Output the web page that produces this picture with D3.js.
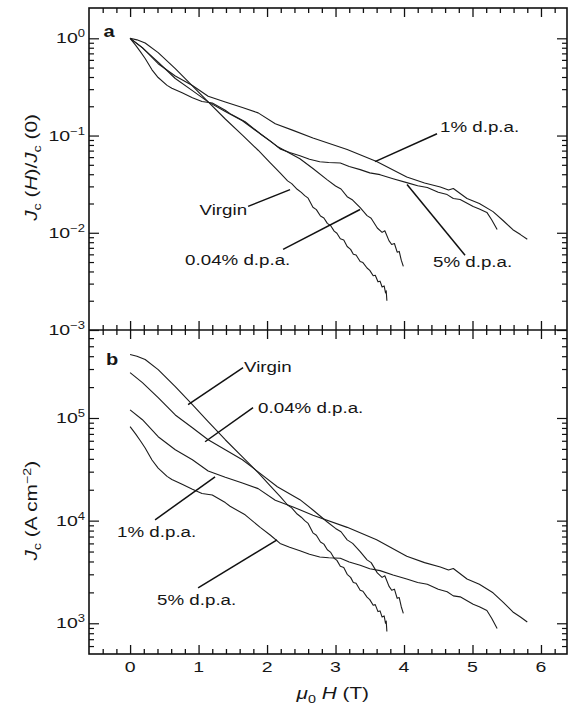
<!DOCTYPE html>
<html><head><meta charset="utf-8">
<script src="https://cdn.jsdelivr.net/npm/d3@7"></script>
<style>
body{margin:0;background:#fff}
svg{display:block}
text{font-family:"Liberation Sans",Arial,Helvetica,sans-serif;fill:#161616}
</style>
</head><body>
<svg id="c" width="575" height="707"></svg>
<script>
// ---------- data ----------
const seriesNames = ["Virgin", "0.04% d.p.a.", "1% d.p.a.", "5% d.p.a."];

// Virgin
const fieldVirgin = [0,0.1,0.22,0.41,0.66,0.91,1.14,1.39,1.64,1.87,2.04,2.19,2.3,2.36,2.44,2.5,2.55,2.6,2.67,2.72,2.78,2.83,2.88,2.93,2.98,3.02,3.07,3.12,3.17,3.22,3.26,3.3,3.36,3.4,3.46,3.5,3.55,3.58,3.62,3.65,3.68,3.71,3.73,3.74,3.75];
const jcVirgin = [4.15e5,4.0e5,3.71e5,2.96e5,2.02e5,1.35e5,9.2e4,6.14e4,4.19e4,2.93e4,2.2e4,1.72e4,1.42e4,1.33e4,1.16e4,1.08e4,1.0e4,9.4e3,7.6e3,7.2e3,6.2e3,5.9e3,5.2e3,4.9e3,4.3e3,4.1e3,3.6e3,3.5e3,3.0e3,2.8e3,2.5e3,2.45e3,2.1e3,2.05e3,1.8e3,1.7e3,1.5e3,1.52e3,1.3e3,1.32e3,1.15e3,1.18e3,1.0e3,1.05e3,830];
const normVirgin = [1,0.964,0.894,0.713,0.487,0.325,0.222,0.148,0.101,0.0706,0.053,0.0414,0.0342,0.032,0.028,0.026,0.0241,0.0227,0.0183,0.0173,0.0149,0.0142,0.0125,0.0118,0.0104,0.00988,0.00867,0.00843,0.00723,0.00675,0.00602,0.0059,0.00506,0.00494,0.00434,0.0041,0.00361,0.00366,0.00313,0.00318,0.00277,0.00284,0.00241,0.00253,0.002];

// 0.04% d.p.a.
const field004 = [0,0.18,0.41,0.66,0.91,1.14,1.39,1.64,1.87,2.15,2.48,2.67,2.88,3.0,3.08,3.17,3.25,3.36,3.46,3.52,3.61,3.68,3.72,3.78,3.82,3.86,3.9,3.93,3.96,3.99];
const jc004 = [2.77e5,2.21e5,1.58e5,1.07e5,8.04e4,6.14e4,4.91e4,3.92e4,2.99e4,2.14e4,1.6e4,1.27e4,9.7e3,8.4e3,7.8e3,6.5e3,6.0e3,5.0e3,4.15e3,3.9e3,3.1e3,2.8e3,2.9e3,2.3e3,2.1e3,2.15e3,1.75e3,1.78e3,1.45e3,1.25e3];
const norm004 = [1,0.798,0.57,0.386,0.29,0.222,0.177,0.142,0.108,0.0773,0.0578,0.0458,0.035,0.0303,0.0282,0.0235,0.0217,0.0181,0.015,0.0141,0.0112,0.0101,0.0105,0.0083,0.00758,0.00776,0.00632,0.00643,0.00523,0.00451];

// 1% d.p.a.
const field1 = [0,0.18,0.41,0.66,0.91,1.14,1.39,1.64,1.87,2.12,2.38,2.67,3.17,3.6,4.04,4.3,4.53,4.65,4.72,4.92,5.1,5.3,5.45,5.59,5.7,5.8];
const jc1 = [1.2e5,9.62e4,6.57e4,4.91e4,3.92e4,3.05e4,2.65e4,2.33e4,2.05e4,1.58e4,1.36e4,1.13e4,8.6e3,6.5e3,4.5e3,3.9e3,3.54e3,3.3e3,3.42e3,2.7e3,2.4e3,1.98e3,1.6e3,1.29e3,1.15e3,1.03e3];
const norm1 = [1,0.802,0.548,0.409,0.327,0.254,0.221,0.194,0.171,0.132,0.113,0.0942,0.0717,0.0542,0.0375,0.0325,0.0295,0.0275,0.0285,0.0225,0.02,0.0165,0.0133,0.01075,0.00958,0.00858];

// 5% d.p.a.
const field5 = [0,0.08,0.15,0.22,0.32,0.41,0.54,0.61,0.76,0.91,1.05,1.2,1.39,1.46,1.68,1.9,2.05,2.19,2.33,2.48,2.62,2.77,2.9,3.07,3.2,3.36,3.5,3.65,3.84,4.04,4.2,4.34,4.5,4.63,4.72,4.82,5.01,5.1,5.21,5.28,5.36];
const jc5 = [8.23e4,7.0e4,6.0e4,5.1e4,3.9e4,3.25e4,2.7e4,2.52e4,2.26e4,2.02e4,1.84e4,1.78e4,1.5e4,1.38e4,1.14e4,8.6e3,7.2e3,6.0e3,5.5e3,5.1e3,4.7e3,4.43e3,4.35e3,4.3e3,3.95e3,3.67e3,3.4e3,3.26e3,2.96e3,2.7e3,2.5e3,2.4e3,2.15e3,2.03e3,1.85e3,1.81e3,1.53e3,1.45e3,1.33e3,1.12e3,890];
const norm5 = [1,0.851,0.729,0.62,0.474,0.395,0.328,0.306,0.275,0.245,0.224,0.216,0.182,0.168,0.1385,0.1045,0.0875,0.0729,0.0668,0.062,0.0571,0.0538,0.0529,0.0522,0.048,0.0446,0.0413,0.0396,0.036,0.0328,0.0304,0.0292,0.0261,0.0247,0.0225,0.022,0.0186,0.0176,0.0162,0.0136,0.0108];

// ticks
const xTickValues = [0,1,2,3,4,5,6];
const xTickLabels = ["0","1","2","3","4","5","6"];
const yTickValuesA = [1,0.1,0.01,0.001];
const yTickExpA = ["0","\u22121","\u22122","\u22123"];
const yTickValuesB = [1e5,1e4,1e3];
const yTickExpB = ["5","4","3"];

// annotations (data units): text anchor point, leader line ends
const annotA = [
  {text:"Virgin",       tx:1.708, ty:0.0154,  anchor:"end",   l:[[1.723,0.01867],[2.336,0.0278]]},
  {text:"0.04% d.p.a.", tx:0.803, ty:0.00462, anchor:"start", l:[[2.234,0.00675],[3.358,0.01734]]},
  {text:"1% d.p.a.",    tx:4.526, ty:0.1094,  anchor:"start", l:[[3.577,0.0539],[4.482,0.1043]]},
  {text:"5% d.p.a.",    tx:4.423, ty:0.00441, anchor:"start", l:[[4.044,0.0313],[4.891,0.00587]]}
];
const annotB = [
  {text:"Virgin",       tx:1.664, ty:2.83e5,  anchor:"start", l:[[0.847,1.35e5],[1.65,3.10e5]]},
  {text:"0.04% d.p.a.", tx:1.869, ty:1.126e5, anchor:"start", l:[[1.095,5.87e4],[1.796,1.26e5]]},
  {text:"1% d.p.a.",    tx:-0.19, ty:6.95e3,  anchor:"start", l:[[0.365,1.018e4],[1.241,2.675e4]]},
  {text:"5% d.p.a.",    tx:0.394, ty:1.508e3, anchor:"start", l:[[0.993,2.21e3],[2.146,6.5e3]]}
];

// ---------- scales ----------
const svg = d3.select("#c");
const x  = d3.scaleLinear().domain([-0.6, 6.38]).range([89, 567]);
const yA = d3.scaleLog().domain([1e-3, 2.05]).range([330, 8]);
const yB = d3.scaleLog().domain([502, 7.2e5]).range([654, 330]);

const zipS = (f, v) => f.map((h, i) => [h, v[i]]);
const dataA = [zipS(fieldVirgin, normVirgin), zipS(field004, norm004), zipS(field1, norm1), zipS(field5, norm5)];
const dataB = [zipS(fieldVirgin, jcVirgin), zipS(field004, jc004), zipS(field1, jc1), zipS(field5, jc5)];

// text helper with horizontal stretch
function label(parent, px, py, anchor, size, sx, parts, rot) {
  const g = parent.append("g")
    .attr("transform", `translate(${px},${py})` + (rot ? ` rotate(${rot})` : "") + ` scale(${sx},1)`);
  const t = g.append("text").attr("text-anchor", anchor).attr("font-size", size);
  parts.forEach(p => {
    const ts = t.append("tspan").text(p.t);
    if (p.dy) ts.attr("dy", p.dy);
    if (p.fs) ts.attr("font-size", p.fs);
    if (p.it) ts.attr("font-style", "italic");
    if (p.b) ts.attr("font-weight", "bold");
  });
  return g;
}

// ---------- curves ----------
const lineA = d3.line().x(d => x(d[0])).y(d => yA(d[1]));
const lineB = d3.line().x(d => x(d[0])).y(d => yB(d[1]));
const curves = svg.append("g").attr("fill", "none").attr("stroke", "#1c1c1c").attr("stroke-width", 1.1).attr("stroke-linejoin", "round");
dataA.forEach(d => curves.append("path").attr("d", lineA(d)));
dataB.forEach(d => curves.append("path").attr("d", lineB(d)));

// ---------- axes / ticks ----------
const minorX = x.ticks(35).filter(v => Math.abs(v - Math.round(v)) > 1e-6 && v > -0.55 && v < 6.35);
function xTickRow(y0, top) {
  const mk = top ? d3.axisTop : d3.axisBottom;
  const g1 = svg.append("g").attr("transform", `translate(0,${y0})`)
    .call(mk(x).tickValues(xTickValues).tickSize(-9).tickFormat(""));
  const g2 = svg.append("g").attr("transform", `translate(0,${y0})`)
    .call(mk(x).tickValues(minorX).tickSize(-5).tickFormat(""));
  [g1, g2].forEach(g => { g.select(".domain").remove(); g.selectAll("line").attr("stroke", "#111").attr("stroke-width", 1.3); });
}
xTickRow(yA.range()[1], true);
xTickRow(yA.range()[0], false);
xTickRow(yB.range()[1], true);
xTickRow(yB.range()[0], false);

function yTicks(scale, majors) {
  const lo = scale.domain()[0], hi = scale.domain()[1];
  const minors = scale.ticks().filter(v => !majors.some(m => Math.abs(m - v) / m < 1e-6) && v > lo * 1.03 && v < hi * 0.95);
  const xl = x.range()[0], xr = x.range()[1];
  [[d3.axisLeft, xl], [d3.axisRight, xr]].forEach(([mk, xp]) => {
    const g1 = svg.append("g").attr("transform", `translate(${xp},0)`)
      .call(mk(scale).tickValues(majors).tickSize(-10).tickFormat(""));
    const g2 = svg.append("g").attr("transform", `translate(${xp},0)`)
      .call(mk(scale).tickValues(minors).tickSize(-5).tickFormat(""));
    [g1, g2].forEach(g => { g.select(".domain").remove(); g.selectAll("line").attr("stroke", "#111").attr("stroke-width", 1.2); });
  });
}
yTicks(yA, yTickValuesA);
yTicks(yB, yTickValuesB);

// frame
svg.append("rect").attr("x", x.range()[0]).attr("y", yA.range()[1])
  .attr("width", x.range()[1] - x.range()[0]).attr("height", yB.range()[0] - yA.range()[1])
  .attr("fill", "none").attr("stroke", "#111").attr("stroke-width", 1.6);
svg.append("line").attr("x1", x.range()[0]).attr("x2", x.range()[1])
  .attr("y1", yA.range()[0]).attr("y2", yA.range()[0]).attr("stroke", "#111").attr("stroke-width", 1.6);

// tick labels
const labelX = x.range()[0] - 4;
yTickValuesA.forEach((v, i) => label(svg, labelX, yA(v) + 5, "end", 15, 1.3,
  [{t:"10"}, {t:yTickExpA[i], fs:10, dy:-6}]));
yTickValuesB.forEach((v, i) => label(svg, labelX, yB(v) + 5, "end", 15, 1.3,
  [{t:"10"}, {t:yTickExpB[i], fs:10, dy:-6}]));
xTickValues.forEach((v, i) => label(svg, x(v), yB.range()[0] + 18, "middle", 15, 1.3, [{t:xTickLabels[i]}]));

// axis titles
label(svg, x(2.96), 699, "middle", 16, 1.3,
  [{t:"\u03bc", it:true}, {t:"0", fs:11, dy:4}, {t:" ", dy:-4}, {t:"H", it:true}, {t:" (T)"}]);
label(svg, 37, yA(0.047), "middle", 16, 1.3,
  [{t:"J", it:true}, {t:"c", fs:11, dy:4}, {t:" (", dy:-4}, {t:"H", it:true}, {t:")/"},
   {t:"J", it:true}, {t:"c", fs:11, dy:4}, {t:" (0)", dy:-4}], -90);
label(svg, 37, yB(1.25e4), "middle", 16, 1.3,
  [{t:"J", it:true}, {t:"c", fs:11, dy:4}, {t:" (A cm", dy:-4}, {t:"\u22122", fs:11, dy:-6}, {t:")", dy:6}], -90);

// panel letters
label(svg, x(-0.39), yA(1.0) - 1, "start", 16, 1.25, [{t:"a", b:true}]);
label(svg, x(-0.35), yB(3.6e5) + 4, "start", 16, 1.25, [{t:"b", b:true}]);

// annotations
function annotate(list, ys) {
  list.forEach(a => {
    svg.append("line")
      .attr("x1", x(a.l[0][0])).attr("y1", ys(a.l[0][1]))
      .attr("x2", x(a.l[1][0])).attr("y2", ys(a.l[1][1]))
      .attr("stroke", "#111").attr("stroke-width", 1.5);
    label(svg, x(a.tx), ys(a.ty), a.anchor, 15, 1.25, [{t:a.text}]);
  });
}
annotate(annotA, yA);
annotate(annotB, yB);
</script>
</body></html>
